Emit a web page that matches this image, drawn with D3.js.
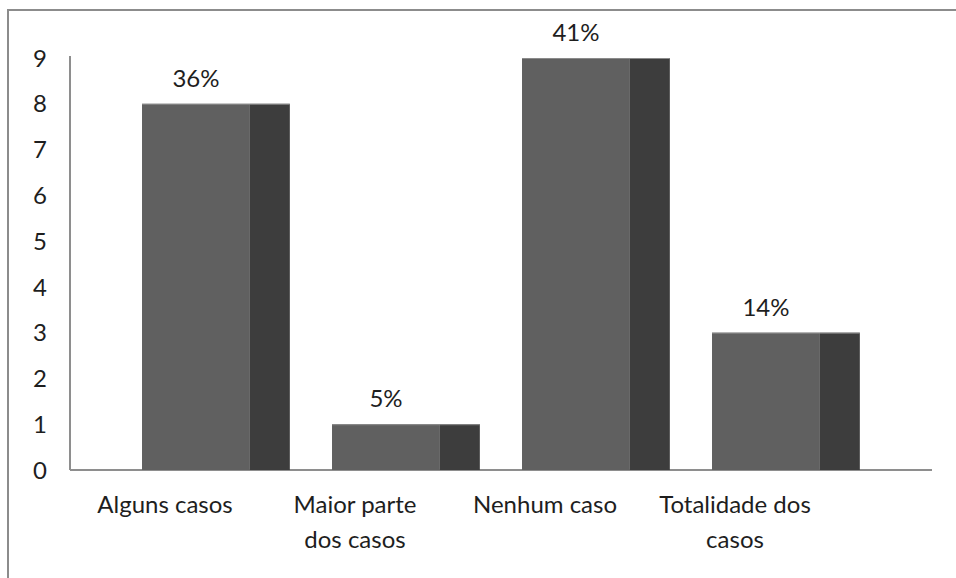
<!DOCTYPE html>
<html>
<head>
<meta charset="utf-8">
<script src="https://cdn.jsdelivr.net/npm/d3@7"></script>
<style>
  html, body { margin: 0; padding: 0; background: #fff; }
  svg { display: block; }
</style>
</head>
<body>
<div id="chart"></div>
<script>
const categories = ['Alguns casos', 'Maior parte dos casos', 'Nenhum caso', 'Totalidade dos casos'];
const values = [8, 1, 9, 3];
const pctLabels = ['36%', '5%', '41%', '14%'];
const yTicks = [0, 1, 2, 3, 4, 5, 6, 7, 8, 9];

const width = 956, height = 578;
const font = 'Lato, "Open Sans", sans-serif';
const fontSize = 24;
const textColor = '#1e1e1e';
const front = '#606060', side = '#3d3d3d';

const svg = d3.select('#chart').append('svg')
  .attr('width', width)
  .attr('height', height);

// outer frame (right/bottom edges fall outside the picture)
svg.append('rect')
  .attr('x', 8).attr('y', 10)
  .attr('width', 1000).attr('height', 1000)
  .attr('fill', 'none')
  .attr('stroke', '#8c8c8c')
  .attr('stroke-width', 2);

const x = d3.scaleBand().domain(categories).range([70, 830]);
const y = d3.scaleLinear().domain([0, 9]).range([470, 58]);
const step = x.step();

// axes
svg.append('line')
  .attr('x1', 70).attr('x2', 70)
  .attr('y1', y(9) - 2).attr('y2', y(0))
  .attr('stroke', '#8e8e8e').attr('stroke-width', 2);
svg.append('line')
  .attr('x1', 70).attr('x2', 932)
  .attr('y1', y(0)).attr('y2', y(0))
  .attr('stroke', '#8e8e8e').attr('stroke-width', 2);

svg.append('g').selectAll('text')
  .data(yTicks)
  .enter().append('text')
  .attr('x', 47)
  .attr('y', d => y(d))
  .attr('dy', '0.36em')
  .attr('text-anchor', 'end')
  .attr('font-family', font)
  .attr('font-size', fontSize)
  .attr('fill', textColor)
  .text(d => d);

const data = categories.map((c, i) => ({ cat: c, value: values[i], pct: pctLabels[i] }));
const frontX = d => x(d.cat) + step * 0.379;
const frontW = step * 0.568;
const sideW = step * 0.21;

const bars = svg.append('g').selectAll('g')
  .data(data)
  .enter().append('g');

bars.append('rect')
  .attr('x', d => frontX(d) + frontW)
  .attr('y', d => y(d.value))
  .attr('width', sideW)
  .attr('height', d => y(0) - y(d.value))
  .attr('fill', side);

bars.append('rect')
  .attr('x', frontX)
  .attr('y', d => y(d.value))
  .attr('width', frontW)
  .attr('height', d => y(0) - y(d.value))
  .attr('fill', front);

bars.append('line')
  .attr('x1', frontX)
  .attr('x2', d => frontX(d) + frontW + sideW)
  .attr('y1', d => y(d.value) + 0.5)
  .attr('y2', d => y(d.value) + 0.5)
  .attr('stroke', '#8a8a8a').attr('stroke-width', 1);

bars.append('text')
  .attr('x', d => frontX(d) + frontW / 2)
  .attr('y', d => y(d.value) - 17)
  .attr('text-anchor', 'middle')
  .attr('font-family', font)
  .attr('font-size', fontSize)
  .attr('fill', textColor)
  .text(d => d.pct);

// category labels, wrapped to the band width
const labels = svg.append('g').selectAll('text')
  .data(categories)
  .enter().append('text')
  .attr('x', d => x(d) + step / 2)
  .attr('y', 513)
  .attr('text-anchor', 'middle')
  .attr('font-family', font)
  .attr('font-size', fontSize)
  .attr('fill', textColor);

labels.each(function(d) {
  const el = d3.select(this);
  const words = d.split(' ');
  let line = [];
  let tspan = el.append('tspan').attr('x', x(d) + step / 2).attr('dy', 0);
  words.forEach(w => {
    line.push(w);
    tspan.text(line.join(' '));
    if (tspan.node().getComputedTextLength() > 158 && line.length > 1) {
      line.pop();
      tspan.text(line.join(' '));
      line = [w];
      tspan = el.append('tspan').attr('x', x(d) + step / 2).attr('dy', 35).text(w);
    }
  });
});
</script>
</body>
</html>
